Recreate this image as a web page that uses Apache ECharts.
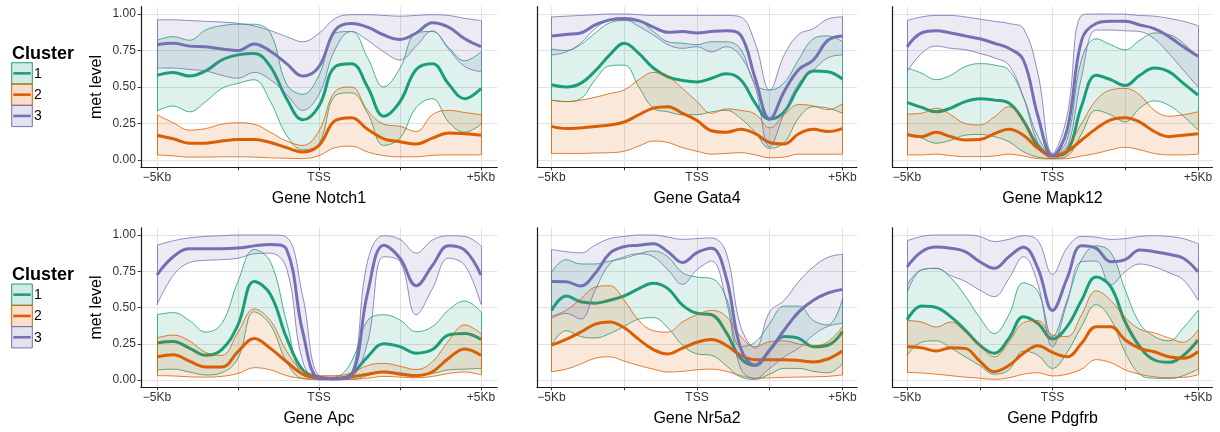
<!DOCTYPE html>
<html>
<head>
<meta charset="utf-8">
<script src="https://cdn.jsdelivr.net/npm/echarts@6/dist/echarts.min.js"></script>
<style>
  html, body { margin: 0; padding: 0; background: #ffffff; }
  #chart { width: 1220px; height: 432px; }
</style>
</head>
<body>
<div id="chart"></div>
<script>
// Positions around the TSS, in kb
const positionsKb = [-5, -4.5, -4, -3.5, -3, -2.5, -2, -1.5, -1, -0.5, 0, 0.5, 1, 1.5, 2, 2.5, 3, 3.5, 4, 4.5, 5];

const clusterNames = ['1', '2', '3'];
const clusterColors = ['#1B9E77', '#D95F02', '#7570B3'];
const geneNames = ['Notch1', 'Gata4', 'Mapk12', 'Apc', 'Nr5a2', 'Pdgfrb'];

const xTickValues = [-5, -2.5, 0, 2.5, 5];
const xLabelValues = [-5, 0, 5];
const xLabelTexts = ['\u22125Kb', 'TSS', '+5Kb'];
const yTickValues = [0, 0.25, 0.5, 0.75, 1];

// ---- Notch1 ----
const notch1Mean1 = [0.58, 0.60, 0.575, 0.61, 0.685, 0.72, 0.73, 0.64, 0.42, 0.275, 0.37, 0.64, 0.66, 0.50, 0.30, 0.40, 0.62, 0.66, 0.52, 0.42, 0.49];
const notch1Low1  = [0.335, 0.37, 0.33, 0.40, 0.49, 0.525, 0.55, 0.40, 0.17, 0.07, 0.11, 0.44, 0.46, 0.32, 0.10, 0.15, 0.36, 0.42, 0.26, 0.19, 0.245];
const notch1High1 = [0.82, 0.845, 0.82, 0.89, 0.92, 0.93, 0.93, 0.87, 0.52, 0.45, 0.58, 0.87, 0.88, 0.70, 0.50, 0.63, 0.87, 0.88, 0.77, 0.68, 0.74];
const notch1Mean2 = [0.17, 0.145, 0.115, 0.115, 0.13, 0.14, 0.14, 0.12, 0.085, 0.055, 0.10, 0.27, 0.29, 0.21, 0.145, 0.125, 0.11, 0.15, 0.185, 0.18, 0.17];
const notch1Low2  = [0.035, 0.028, 0.02, 0.02, 0.022, 0.022, 0.02, 0.015, 0.012, 0.01, 0.03, 0.085, 0.095, 0.055, 0.03, 0.022, 0.022, 0.032, 0.035, 0.035, 0.035];
const notch1High2 = [0.31, 0.255, 0.205, 0.215, 0.245, 0.255, 0.245, 0.19, 0.13, 0.10, 0.20, 0.47, 0.50, 0.34, 0.245, 0.23, 0.195, 0.31, 0.34, 0.325, 0.31];
const notch1Mean3 = [0.79, 0.80, 0.78, 0.775, 0.76, 0.75, 0.795, 0.745, 0.66, 0.575, 0.64, 0.89, 0.935, 0.91, 0.856, 0.826, 0.87, 0.94, 0.91, 0.83, 0.776];
const notch1Low3  = [0.63, 0.63, 0.62, 0.61, 0.58, 0.56, 0.60, 0.55, 0.45, 0.34, 0.45, 0.76, 0.88, 0.82, 0.74, 0.685, 0.78, 0.885, 0.76, 0.64, 0.605];
const notch1High3 = [0.96, 0.96, 0.955, 0.95, 0.945, 0.936, 0.918, 0.886, 0.845, 0.81, 0.868, 0.97, 0.995, 0.995, 0.99, 0.985, 0.99, 0.995, 0.99, 0.97, 0.955];

// ---- Gata4 ----
const gata4Mean1 = [0.515, 0.50, 0.525, 0.61, 0.72, 0.80, 0.73, 0.63, 0.57, 0.545, 0.535, 0.56, 0.59, 0.55, 0.39, 0.28, 0.33, 0.50, 0.61, 0.605, 0.555];
const gata4Low1  = [0.41, 0.40, 0.42, 0.55, 0.645, 0.65, 0.50, 0.355, 0.33, 0.31, 0.31, 0.33, 0.34, 0.285, 0.19, 0.08, 0.12, 0.29, 0.365, 0.355, 0.32];
const gata4High1 = [0.76, 0.75, 0.79, 0.87, 0.94, 0.955, 0.95, 0.88, 0.81, 0.80, 0.79, 0.81, 0.81, 0.76, 0.52, 0.48, 0.53, 0.69, 0.83, 0.85, 0.81];
const gata4Mean2 = [0.23, 0.215, 0.22, 0.23, 0.24, 0.26, 0.31, 0.355, 0.365, 0.32, 0.27, 0.20, 0.19, 0.21, 0.18, 0.12, 0.11, 0.18, 0.21, 0.195, 0.215];
const gata4Low2  = [0.045, 0.045, 0.045, 0.048, 0.05, 0.06, 0.095, 0.13, 0.12, 0.085, 0.06, 0.04, 0.045, 0.05, 0.035, 0.015, 0.02, 0.04, 0.04, 0.04, 0.04];
const gata4High2 = [0.41, 0.40, 0.41, 0.43, 0.455, 0.48, 0.55, 0.60, 0.57, 0.49, 0.40, 0.32, 0.35, 0.34, 0.315, 0.22, 0.31, 0.38, 0.37, 0.345, 0.385];
const gata4Mean3 = [0.85, 0.86, 0.87, 0.925, 0.96, 0.97, 0.955, 0.91, 0.875, 0.88, 0.87, 0.88, 0.885, 0.855, 0.56, 0.28, 0.47, 0.62, 0.685, 0.82, 0.85];
const gata4Low3  = [0.72, 0.74, 0.80, 0.90, 0.955, 0.96, 0.915, 0.856, 0.79, 0.765, 0.776, 0.74, 0.776, 0.71, 0.50, 0.09, 0.32, 0.525, 0.615, 0.70, 0.72];
const gata4High3 = [0.98, 0.985, 0.99, 0.995, 1.0, 1.0, 0.995, 0.99, 0.99, 0.99, 0.99, 0.99, 0.99, 0.98, 0.80, 0.48, 0.72, 0.86, 0.90, 0.966, 0.98];

// ---- Mapk12 ----
const mapk12Mean1 = [0.395, 0.36, 0.33, 0.355, 0.40, 0.42, 0.41, 0.39, 0.27, 0.095, 0.03, 0.057, 0.37, 0.58, 0.55, 0.51, 0.58, 0.63, 0.605, 0.525, 0.445];
const mapk12Low1  = [0.18, 0.15, 0.115, 0.135, 0.17, 0.175, 0.16, 0.125, 0.057, 0.02, 0.01, 0.027, 0.18, 0.34, 0.31, 0.26, 0.355, 0.405, 0.375, 0.30, 0.205];
const mapk12High1 = [0.63, 0.595, 0.55, 0.58, 0.64, 0.66, 0.65, 0.615, 0.43, 0.16, 0.035, 0.14, 0.69, 0.83, 0.79, 0.755, 0.82, 0.87, 0.86, 0.80, 0.70];
const mapk12Mean2 = [0.175, 0.16, 0.19, 0.16, 0.137, 0.14, 0.18, 0.21, 0.17, 0.08, 0.027, 0.057, 0.137, 0.215, 0.275, 0.29, 0.26, 0.195, 0.16, 0.17, 0.18];
const mapk12Low2  = [0.035, 0.035, 0.04, 0.03, 0.023, 0.023, 0.027, 0.04, 0.027, 0.01, 0.007, 0.01, 0.027, 0.045, 0.07, 0.087, 0.07, 0.045, 0.035, 0.035, 0.04];
const mapk12High2 = [0.315, 0.32, 0.355, 0.31, 0.25, 0.24, 0.295, 0.365, 0.275, 0.115, 0.035, 0.09, 0.25, 0.41, 0.48, 0.49, 0.445, 0.34, 0.30, 0.31, 0.33];
const mapk12Mean3 = [0.775, 0.87, 0.885, 0.87, 0.85, 0.83, 0.80, 0.765, 0.685, 0.30, 0.03, 0.205, 0.82, 0.935, 0.95, 0.95, 0.925, 0.90, 0.845, 0.775, 0.71];
const mapk12Low3  = [0.605, 0.73, 0.78, 0.765, 0.755, 0.73, 0.70, 0.65, 0.43, 0.115, 0.01, 0.08, 0.57, 0.89, 0.89, 0.885, 0.88, 0.83, 0.73, 0.615, 0.50];
const mapk12High3 = [0.955, 0.98, 0.99, 0.99, 0.98, 0.965, 0.95, 0.935, 0.90, 0.59, 0.045, 0.30, 0.99, 1.0, 1.0, 0.998, 0.99, 0.985, 0.97, 0.95, 0.92];

// ---- Apc ----
const apcMean1 = [0.255, 0.265, 0.22, 0.17, 0.21, 0.38, 0.68, 0.59, 0.29, 0.07, 0.02, 0.008, 0.04, 0.16, 0.25, 0.23, 0.185, 0.21, 0.31, 0.32, 0.28];
const apcLow1  = [0.07, 0.075, 0.055, 0.035, 0.05, 0.15, 0.47, 0.38, 0.126, 0.01, 0.005, 0.003, 0.005, 0.03, 0.06, 0.05, 0.035, 0.045, 0.07, 0.075, 0.08];
const apcHigh1 = [0.45, 0.465, 0.41, 0.33, 0.39, 0.68, 0.90, 0.816, 0.40, 0.035, 0.015, 0.02, 0.126, 0.41, 0.45, 0.414, 0.333, 0.368, 0.483, 0.545, 0.47];
const apcMean2 = [0.16, 0.175, 0.13, 0.09, 0.09, 0.195, 0.287, 0.218, 0.126, 0.04, 0.015, 0.012, 0.022, 0.04, 0.055, 0.04, 0.03, 0.057, 0.15, 0.214, 0.17];
const apcLow2  = [0.03, 0.028, 0.022, 0.02, 0.025, 0.045, 0.085, 0.07, 0.03, 0.01, 0.005, 0.004, 0.005, 0.012, 0.025, 0.02, 0.015, 0.025, 0.045, 0.055, 0.035];
const apcHigh2 = [0.29, 0.31, 0.27, 0.19, 0.17, 0.33, 0.49, 0.41, 0.20, 0.06, 0.03, 0.03, 0.05, 0.10, 0.115, 0.095, 0.072, 0.126, 0.27, 0.38, 0.32];
const apcMean3 = [0.725, 0.85, 0.905, 0.905, 0.905, 0.91, 0.925, 0.935, 0.90, 0.33, 0.015, 0.01, 0.035, 0.60, 0.93, 0.84, 0.65, 0.79, 0.926, 0.896, 0.724];
const apcLow3  = [0.52, 0.72, 0.81, 0.825, 0.83, 0.84, 0.87, 0.875, 0.77, 0.126, 0.0, 0.0, 0.02, 0.26, 0.85, 0.816, 0.45, 0.63, 0.84, 0.79, 0.52];
const apcHigh3 = [0.93, 0.96, 0.98, 0.99, 0.995, 1.0, 1.0, 1.0, 0.985, 0.575, 0.03, 0.015, 0.045, 0.82, 0.995, 0.97, 0.875, 0.965, 0.995, 0.99, 0.925];

// ---- Nr5a2 ----
const nr5a2Mean1 = [0.48, 0.579, 0.54, 0.53, 0.55, 0.58, 0.63, 0.667, 0.63, 0.517, 0.46, 0.45, 0.33, 0.15, 0.10, 0.207, 0.30, 0.287, 0.23, 0.24, 0.333];
const nr5a2Low1  = [0.24, 0.34, 0.30, 0.29, 0.32, 0.37, 0.42, 0.43, 0.36, 0.24, 0.18, 0.17, 0.10, 0.02, 0.005, 0.04, 0.08, 0.08, 0.06, 0.05, 0.11];
const nr5a2High1 = [0.745, 0.83, 0.80, 0.80, 0.82, 0.84, 0.87, 0.89, 0.85, 0.74, 0.71, 0.70, 0.57, 0.23, 0.26, 0.39, 0.51, 0.51, 0.41, 0.38, 0.56];
const nr5a2Mean2 = [0.24, 0.28, 0.33, 0.385, 0.40, 0.36, 0.28, 0.21, 0.18, 0.22, 0.26, 0.28, 0.24, 0.17, 0.14, 0.14, 0.14, 0.135, 0.125, 0.145, 0.20];
const nr5a2Low2  = [0.057, 0.075, 0.11, 0.15, 0.16, 0.13, 0.10, 0.075, 0.055, 0.06, 0.07, 0.075, 0.06, 0.03, 0.012, 0.015, 0.018, 0.02, 0.022, 0.025, 0.035];
const nr5a2High2 = [0.44, 0.48, 0.56, 0.64, 0.65, 0.55, 0.41, 0.34, 0.33, 0.40, 0.45, 0.48, 0.44, 0.30, 0.23, 0.264, 0.27, 0.248, 0.235, 0.264, 0.368];
const nr5a2Mean3 = [0.68, 0.678, 0.648, 0.736, 0.874, 0.92, 0.93, 0.94, 0.885, 0.81, 0.878, 0.908, 0.71, 0.22, 0.103, 0.207, 0.345, 0.47, 0.55, 0.60, 0.625];
const nr5a2Low3  = [0.425, 0.46, 0.42, 0.62, 0.80, 0.85, 0.87, 0.85, 0.76, 0.66, 0.76, 0.82, 0.55, 0.08, 0.01, 0.08, 0.16, 0.22, 0.31, 0.37, 0.39];
const nr5a2High3 = [0.90, 0.885, 0.877, 0.93, 0.975, 0.99, 1.0, 1.0, 0.985, 0.97, 0.975, 0.98, 0.88, 0.37, 0.22, 0.47, 0.55, 0.68, 0.78, 0.846, 0.867];

// ---- Pdgfrb ----
const pdgfrbMean1 = [0.415, 0.51, 0.50, 0.437, 0.345, 0.24, 0.184, 0.287, 0.437, 0.39, 0.283, 0.368, 0.55, 0.71, 0.644, 0.40, 0.23, 0.138, 0.122, 0.17, 0.276];
const pdgfrbLow1  = [0.17, 0.26, 0.27, 0.22, 0.16, 0.10, 0.04, 0.07, 0.20, 0.17, 0.08, 0.19, 0.37, 0.52, 0.42, 0.19, 0.04, 0.012, 0.01, 0.03, 0.075];
const pdgfrbHigh1 = [0.655, 0.76, 0.77, 0.705, 0.58, 0.43, 0.32, 0.45, 0.67, 0.61, 0.30, 0.55, 0.83, 0.925, 0.88, 0.62, 0.39, 0.30, 0.27, 0.36, 0.48];
const pdgfrbMean2 = [0.23, 0.223, 0.20, 0.223, 0.218, 0.13, 0.057, 0.10, 0.184, 0.237, 0.19, 0.16, 0.253, 0.368, 0.368, 0.276, 0.218, 0.195, 0.16, 0.15, 0.195];
const pdgfrbLow2  = [0.053, 0.048, 0.04, 0.03, 0.02, 0.012, 0.005, 0.015, 0.04, 0.05, 0.028, 0.04, 0.075, 0.14, 0.12, 0.07, 0.04, 0.022, 0.016, 0.018, 0.035];
const pdgfrbHigh2 = [0.41, 0.40, 0.365, 0.40, 0.33, 0.24, 0.16, 0.26, 0.395, 0.41, 0.31, 0.30, 0.45, 0.615, 0.55, 0.43, 0.35, 0.325, 0.29, 0.26, 0.345];
const pdgfrbMean3 = [0.78, 0.885, 0.917, 0.908, 0.885, 0.816, 0.77, 0.85, 0.915, 0.77, 0.48, 0.70, 0.926, 0.908, 0.816, 0.83, 0.897, 0.885, 0.867, 0.84, 0.747];
const pdgfrbLow3  = [0.60, 0.76, 0.77, 0.72, 0.68, 0.62, 0.575, 0.70, 0.85, 0.66, 0.23, 0.53, 0.816, 0.82, 0.655, 0.747, 0.80, 0.78, 0.74, 0.69, 0.55];
const pdgfrbHigh3 = [0.96, 0.99, 1.0, 1.0, 1.0, 0.99, 0.955, 0.97, 0.995, 0.96, 0.73, 0.91, 0.99, 0.985, 0.97, 0.975, 0.99, 0.995, 0.99, 0.975, 0.94];

// Per-gene grouping: for each cluster [mean, low, high]
const geneProfiles = [
  [[notch1Mean1, notch1Low1, notch1High1], [notch1Mean2, notch1Low2, notch1High2], [notch1Mean3, notch1Low3, notch1High3]],
  [[gata4Mean1, gata4Low1, gata4High1], [gata4Mean2, gata4Low2, gata4High2], [gata4Mean3, gata4Low3, gata4High3]],
  [[mapk12Mean1, mapk12Low1, mapk12High1], [mapk12Mean2, mapk12Low2, mapk12High2], [mapk12Mean3, mapk12Low3, mapk12High3]],
  [[apcMean1, apcLow1, apcHigh1], [apcMean2, apcLow2, apcHigh2], [apcMean3, apcLow3, apcHigh3]],
  [[nr5a2Mean1, nr5a2Low1, nr5a2High1], [nr5a2Mean2, nr5a2Low2, nr5a2High2], [nr5a2Mean3, nr5a2Low3, nr5a2High3]],
  [[pdgfrbMean1, pdgfrbLow1, pdgfrbHigh1], [pdgfrbMean2, pdgfrbLow2, pdgfrbHigh2], [pdgfrbMean3, pdgfrbLow3, pdgfrbHigh3]]
];

// The x axis is a category axis over the sampled positions, padded by one empty
// slot on each side so the profiles sit inside the panel like ggplot's expansion.
const axisSlots = ['-5.5', ...positionsKb.map(String), '5.5'];
const pad = arr => [null, ...arr, null];
const slotValue = idx => Number(axisSlots[idx]);
const firstPos = String(positionsKb[0]);
const lastPos = String(positionsKb[positionsKb.length - 1]);

// ---- layout ----
const FONT = '"Liberation Sans", Arial, Helvetica, sans-serif';
const colBoxes = [
  { left: 140.8, width: 356.4 },
  { left: 537, width: 320 },
  { left: 892.5, width: 320 }
];
const rowBoxes = [
  { top: 6.7, height: 160.6 },
  { top: 227.75, height: 159.5 }
];
const gridLineColor = '#e2e2e2';

function hexToRgba(hex, a) {
  const n = parseInt(hex.slice(1), 16);
  return 'rgba(' + ((n >> 16) & 255) + ',' + ((n >> 8) & 255) + ',' + (n & 255) + ',' + a + ')';
}

const isTickSlot = idx => xTickValues.includes(slotValue(idx));
const isLabelSlot = idx => xLabelValues.includes(slotValue(idx));

const grids = [], xAxes = [], yAxes = [], series = [];

geneNames.forEach((gene, p) => {
  const row = Math.floor(p / 3), col = p % 3;
  const first = col === 0;
  grids.push({
    left: colBoxes[col].left, width: colBoxes[col].width,
    top: rowBoxes[row].top, height: rowBoxes[row].height,
    containLabel: false
  });
  xAxes.push({
    gridIndex: p, type: 'category', data: axisSlots, boundaryGap: false,
    axisLine: { show: true, onZero: false, lineStyle: { color: '#1a1a1a', width: 1.2 } },
    axisTick: { show: true, length: 3, interval: idx => isTickSlot(idx), lineStyle: { color: '#333', width: 1 } },
    axisLabel: {
      interval: idx => isLabelSlot(idx), margin: 4, fontSize: 12, color: '#333', fontFamily: FONT,
      formatter: v => xLabelTexts[xLabelValues.indexOf(Number(v))] ?? ''
    },
    splitLine: { show: true, interval: idx => isTickSlot(idx), lineStyle: { color: gridLineColor, width: 1 } },
    name: 'Gene ' + gene, nameLocation: 'middle', nameGap: 23,
    nameTextStyle: { fontSize: 16, color: '#000', fontFamily: FONT }
  });
  yAxes.push({
    gridIndex: p, type: 'value', min: -0.05, max: 1.05,
    axisLine: { show: true, onZero: false, lineStyle: { color: '#1a1a1a', width: 1.2 } },
    axisTick: { show: first, length: 3, customValues: yTickValues, lineStyle: { color: '#333' } },
    axisLabel: {
      show: first, customValues: yTickValues, margin: 5, fontSize: 12, color: '#333', fontFamily: FONT,
      formatter: v => v.toFixed(2)
    },
    splitLine: { show: true, lineStyle: { color: gridLineColor, width: 1 } },
    name: first ? 'met level' : '', nameLocation: 'middle', nameGap: 36,
    nameTextStyle: { fontSize: 16, color: '#000', fontFamily: FONT }
  });

  geneProfiles[p].forEach((prof, c) => {
    const [mean, low, high] = prof;
    const color = clusterColors[c];
    const stackId = 'band-' + p + '-' + c;
    const n = low.length - 1;
    // lower bound of the confidence band
    series.push({
      type: 'line', xAxisIndex: p, yAxisIndex: p, stack: stackId,
      data: pad(low),
      smooth: 0.4, symbol: 'none', silent: true,
      lineStyle: { color: color, width: 0.8 }, z: 2 + c
    });
    // band thickness stacked on the lower bound -> ribbon up to the upper bound
    series.push({
      type: 'line', xAxisIndex: p, yAxisIndex: p, stack: stackId,
      data: pad(high.map((h, i) => Math.max(0, h - low[i]))),
      smooth: 0.4, symbol: 'none', silent: true,
      lineStyle: { color: color, width: 0.8 },
      areaStyle: { color: hexToRgba(color, 0.2) }, z: 2 + c
    });
    // smoothed mean profile, plus the closing edges of the ribbon at both ends
    series.push({
      type: 'line', xAxisIndex: p, yAxisIndex: p,
      name: clusterNames[c],
      data: pad(mean),
      smooth: 0.4, symbol: 'none', silent: true,
      lineStyle: { color: color, width: 3 }, z: 2 + c,
      markLine: {
        silent: true, symbol: ['none', 'none'], label: { show: false },
        lineStyle: { color: color, width: 0.8, type: 'solid' },
        emphasis: { disabled: true },
        data: [
          [{ coord: [firstPos, low[0]] }, { coord: [firstPos, high[0]] }],
          [{ coord: [lastPos, low[n]] }, { coord: [lastPos, high[n]] }]
        ]
      }
    });
  });
});

// "Cluster" key, drawn next to each row of panels
function clusterKey(titleY, firstKeyTop) {
  const els = [{
    type: 'text', x: 12, y: titleY,
    style: { text: 'Cluster', font: 'bold 18px ' + FONT, fill: '#000', verticalAlign: 'middle' }
  }];
  clusterNames.forEach((name, c) => {
    const top = firstKeyTop + c * 21.3;
    const mid = top + 10.65;
    els.push({
      type: 'rect', shape: { x: 11.7, y: top, width: 20.6, height: 21.3 },
      style: { fill: hexToRgba(clusterColors[c], 0.2), stroke: clusterColors[c], lineWidth: 1 }
    });
    els.push({
      type: 'line', shape: { x1: 13.3, y1: mid, x2: 30.7, y2: mid },
      style: { stroke: clusterColors[c], lineWidth: 2.6 }
    });
    els.push({
      type: 'text', x: 34, y: mid + 0.5,
      style: { text: name, font: '14px ' + FONT, fill: '#000', verticalAlign: 'middle' }
    });
  });
  return els;
}

const chart = echarts.init(document.getElementById('chart'), null, { renderer: 'canvas' });
chart.setOption({
  animation: false,
  backgroundColor: '#ffffff',
  textStyle: { fontFamily: FONT },
  grid: grids,
  xAxis: xAxes,
  yAxis: yAxes,
  series: series,
  graphic: { elements: [...clusterKey(54, 62.7), ...clusterKey(275, 284)] }
});
</script>
</body>
</html>
